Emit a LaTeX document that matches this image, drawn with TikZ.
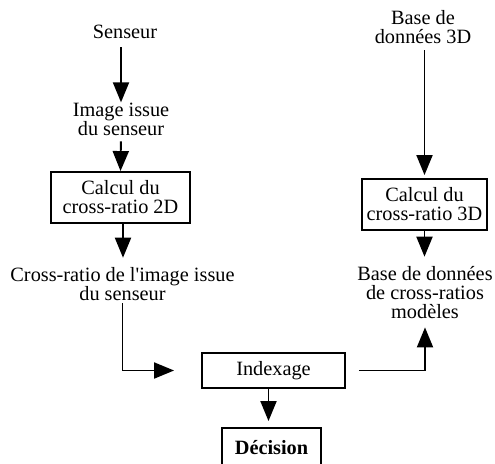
\documentclass[tikz,border=0pt]{standalone}
\usepackage{fontspec}
\setmainfont{Liberation Serif}
\usetikzlibrary{arrows.meta}
\begin{document}
\begin{tikzpicture}[x=1pt,y=-1pt,
    font=\fontsize{20.3}{19}\selectfont,
    box/.style={draw,line width=1.9pt,inner sep=0pt,align=center},
    lbl/.style={inner sep=0pt,align=center,anchor=base},
    arr/.style={line width=1.9pt,-{Triangle[width=16pt,length=20pt]}}]
  \useasboundingbox (0,0) rectangle (495,463);
  % left column
  \node[lbl] (senseur) at (125,38.3) {Senseur};
  \node[lbl] (image) at (121,135) {Image issue\\du senseur};
  \node[box,minimum width=139pt,minimum height=51pt] (calc2d) at (120.5,197.5)
    {Calcul du\\cross-ratio 2D};
  \node[lbl] (cr2d) at (122.5,300) {Cross-ratio de l\textquotesingle image issue\\du senseur};
  % right column
  \node[lbl] (base3d) at (423,43.3) {Base de\\données 3D};
  \node[box,minimum width=125pt,minimum height=51pt] (calc3d) at (424.5,204.5)
    {Calcul du\\cross-ratio 3D};
  \node[lbl] (crbase) at (425,318) {Base de données\\de cross-ratios\\modèles};
  % bottom
  \node[box,minimum width=143pt,minimum height=35pt] (index) at (273.5,370.5) {Indexage};
  \node[box,minimum width=99pt,minimum height=40pt,font=\fontsize{20.3}{19}\selectfont\bfseries]
    (decision) at (271.5,448) {Décision};
  % connectors
  \draw[arr,shorten <=8.4pt] (senseur.south -| image.north) -- (image.north);
  \draw[arr,shorten <=6pt] (image.south) -- (calc2d.north);
  \draw[arr,shorten >=9pt] ([xshift=2.5pt]calc2d.south) -- ([xshift=2.5pt]calc2d.south |- cr2d.north);
  \draw[arr,shorten <=3pt,shorten >=27pt] (cr2d.south) |- (index.west);
  \draw[arr,shorten <=13pt,shorten >=9pt] (index.east) -| (crbase.south);
  \draw[arr,shorten >=6pt] ([xshift=-5pt]index.south) -- ([xshift=-5pt]index.south |- decision.north);
  \draw[arr,shorten <=6.7pt,shorten >=3pt] (base3d.south -| calc3d.north) -- (calc3d.north);
  \draw[arr,shorten >=9pt] (calc3d.south) -- (calc3d.south |- crbase.north);
\end{tikzpicture}
\end{document}
